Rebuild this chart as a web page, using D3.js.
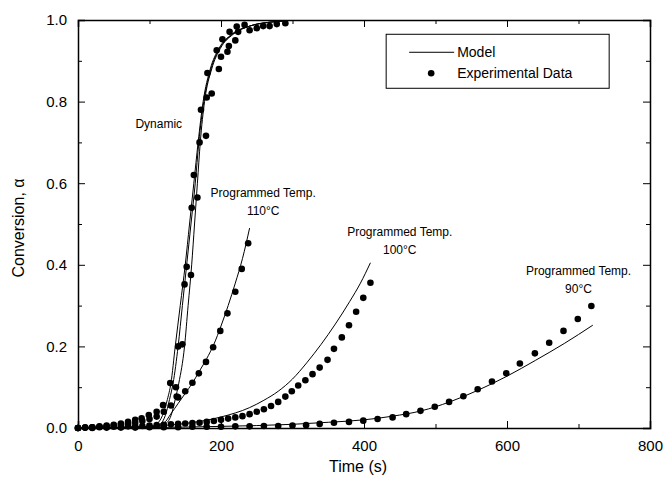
<!DOCTYPE html>
<html lang="en">
<head>
  <meta charset="UTF-8">
  <title>Conversion vs Time</title>
  <style>
    body { margin: 0; background: #fff; }
    svg text { font-family: "Liberation Sans", Arial, sans-serif; fill: #000; }
    .axis path, .axis line { stroke: #000; }
  </style>
</head>
<body>
  <div id="chart"></div>
  <script src="https://d3js.org/d3.v7.min.js"></script>
  <script>
    // ---- data: [time (s), conversion] ----
    const dynamicData = [[0,0],[10,0.001],[20,0.002],[30,0.004],[40,0.006],[50,0.008],[60,0.011],[70,0.015],[80,0.02],[89,0.024],[99,0.032],[110,0.04],[119,0.056],
      [129,0.11],[137,0.1],[138,0.077],[140,0.2],[146,0.205],[149,0.352],[152,0.395],[158,0.375],[159,0.54],[162,0.62],[167,0.565],
      [170,0.70],[172,0.78],[179,0.716],[180,0.81],[181,0.87],[187,0.82],[194,0.926],[197,0.88],[200,0.91],[202,0.953],[209,0.922],
      [211,0.936],[212,0.971],[220,0.95],[222,0.984],[224,0.971],[233,0.988],[240,0.975],[250,0.98],[259,0.985],[268,0.985],[278,0.99],[290,0.992]];
    const dynamicModelA = [[0,0],[100,0.003],[110,0.01],[118,0.03],[125,0.07],[130,0.11],[136,0.2],[143,0.3],[150,0.4],[156,0.5],[162,0.6],[168,0.7],[175,0.8],[185,0.88],[197,0.93],[215,0.965],[240,0.985],[270,0.995],[290,0.998]];
    const dynamicModelB = [[0,0],[100,0.002],[115,0.01],[122,0.03],[128,0.07],[133,0.11],[140,0.2],[146,0.3],[152,0.4],[158,0.5],[164,0.6],[169,0.7],[176,0.8],[186,0.88],[198,0.93],[216,0.965],[240,0.985],[270,0.995],[290,0.998]];
    const dynamicModelC = [[0,0],[110,0.003],[122,0.01],[130,0.03],[136,0.07],[141,0.11],[149,0.2],[154,0.3],[159,0.4],[163,0.5],[167,0.6],[171,0.7],[177,0.8],[187,0.88],[199,0.93],[217,0.965],[240,0.985],[270,0.995],[290,0.998]];

    const temp110Data = [[0,0],[10,0.001],[20,0.002],[30,0.003],[40,0.004],[50,0.006],[60,0.008],[70,0.01],[80,0.013],[90,0.017],[100,0.022],[110,0.028],[120,0.04],[130,0.055],
      [140,0.075],[150,0.09],[160,0.111],[169,0.134],[179,0.162],[189,0.198],[199,0.238],[209,0.281],[220,0.334],[229,0.39],[238,0.453]];
    const temp110Model = [[0,0],[100,0.003],[120,0.012],[130,0.035],[140,0.06],[150,0.085],[160,0.11],[170,0.14],[180,0.17],[190,0.205],[200,0.25],[210,0.3],[220,0.355],[230,0.415],[240,0.49]];

    const temp100Data = [[0,0],[10,0.001],[20,0.001],[30,0.002],[40,0.002],[50,0.003],[60,0.003],[70,0.004],[80,0.004],[90,0.005],[100,0.006],[110,0.007],[120,0.008],[130,0.009],
      [140,0.01],[150,0.011],[160,0.012],[170,0.013],[180,0.015],[190,0.017],[200,0.02],[210,0.023],[220,0.026],[230,0.029],[240,0.034],[250,0.04],[260,0.046],[270,0.054],
      [280,0.064],[290,0.077],[299,0.09],[308,0.104],[318,0.117],[328,0.132],[338,0.148],[349,0.167],[358,0.194],[369,0.222],[379,0.252],[389,0.285],[399,0.319],[409,0.356]];
    const temp100Model = [[0,0],[100,0.004],[150,0.011],[200,0.027],[240,0.05],[260,0.068],[280,0.09],[300,0.12],[320,0.16],[340,0.205],[360,0.255],[380,0.31],[395,0.355],[409,0.405]];

    const temp90Data = [[0,0],[20,0],[40,0.001],[60,0.001],[80,0.001],[100,0.002],[120,0.002],[140,0.002],[160,0.003],[180,0.003],[200,0.003],[220,0.004],[240,0.004],[260,0.005],
      [280,0.005],[300,0.006],[319,0.007],[338,0.01],[358,0.013],[379,0.015],[399,0.018],[419,0.022],[440,0.026],[459,0.034],[479,0.042],[499,0.052],[519,0.064],[539,0.078],
      [559,0.095],[579,0.114],[599,0.134],[618,0.158],[639,0.183],[659,0.209],[679,0.238],[699,0.267],[718,0.299]];
    const temp90Model = [[0,0],[100,0.001],[200,0.004],[300,0.009],[350,0.014],[400,0.02],[440,0.029],[480,0.042],[520,0.064],[560,0.093],[600,0.127],[640,0.166],[680,0.207],[720,0.252]];

    const xMajorTicks = [0, 200, 400, 600, 800];
    const xMinorTicks = [100, 300, 500, 700];
    const yMajorTicks = [0, 0.2, 0.4, 0.6, 0.8, 1.0];
    const yMinorTicks = [0.1, 0.3, 0.5, 0.7, 0.9];

    const modelSeries = [dynamicModelA, dynamicModelB, dynamicModelC, temp110Model, temp100Model, temp90Model];
    const dataSeries = [dynamicData, temp110Data, temp100Data, temp90Data];

    const annotations = [
      { lines: ["Dynamic"], x: 113, y: 0.735 },
      { lines: ["Programmed Temp.", "110\u00B0C"], x: 259, y: 0.565 },
      { lines: ["Programmed Temp.", "100\u00B0C"], x: 450, y: 0.47 },
      { lines: ["Programmed Temp.", "90\u00B0C"], x: 700, y: 0.375 }
    ];

    const width = 663, height = 477;
    const margin = { top: 20, right: 13, bottom: 49, left: 78 };
    const innerW = width - margin.left - margin.right;
    const innerH = height - margin.top - margin.bottom;

    const svg = d3.select("#chart").append("svg")
      .attr("width", width)
      .attr("height", height);

    const g = svg.append("g")
      .attr("transform", `translate(${margin.left},${margin.top})`);

    const x = d3.scaleLinear().domain([0, 800]).range([0, innerW]);
    const y = d3.scaleLinear().domain([0, 1]).range([innerH, 0]);

    // inward ticks on all four sides
    function drawAxis(axisFn, scale, major, minor, transform, showLabels, fmt, pad) {
      const maj = g.append("g").attr("class", "axis").attr("transform", transform)
        .call(axisFn(scale).tickValues(major).tickSize(-7).tickPadding(pad)
          .tickFormat(showLabels ? fmt : ""));
      maj.select(".domain").attr("stroke-width", 1.5);
      maj.selectAll("text").style("font-size", "15px");
      g.append("g").attr("class", "axis").attr("transform", transform)
        .call(axisFn(scale).tickValues(minor).tickSize(-4).tickFormat(""))
        .select(".domain").remove();
    }
    drawAxis(d3.axisBottom, x, xMajorTicks, xMinorTicks, `translate(0,${innerH})`, true, d3.format("d"), 12);
    drawAxis(d3.axisTop, x, xMajorTicks, xMinorTicks, "translate(0,0)", false, null, 3);
    drawAxis(d3.axisLeft, y, yMajorTicks, yMinorTicks, "translate(0,0)", true, d3.format(".1f"), 11);
    drawAxis(d3.axisRight, y, yMajorTicks, yMinorTicks, `translate(${innerW},0)`, false, null, 3);

    // model lines
    const line = d3.line().x(d => x(d[0])).y(d => y(d[1])).curve(d3.curveMonotoneX);
    g.selectAll(".model").data(modelSeries).enter().append("path")
      .attr("class", "model")
      .attr("d", line)
      .attr("fill", "none")
      .attr("stroke", "#000")
      .attr("stroke-width", 1);

    // experimental points
    g.selectAll(".series").data(dataSeries).enter().append("g")
      .attr("class", "series")
      .selectAll("circle").data(d => d).enter().append("circle")
      .attr("cx", d => x(d[0]))
      .attr("cy", d => y(d[1]))
      .attr("r", 3.3)
      .attr("fill", "#000");

    // curve annotations
    annotations.forEach(a => {
      const t = g.append("text")
        .attr("x", x(a.x))
        .attr("y", y(a.y))
        .attr("text-anchor", "middle")
        .style("font-size", "12px");
      a.lines.forEach((s, i) => {
        t.append("tspan").attr("x", x(a.x)).attr("dy", i === 0 ? 0 : "1.5em").text(s);
      });
    });

    // legend
    const legend = g.append("g").attr("transform", `translate(${x(431)},${y(0.965)})`);
    legend.append("rect")
      .attr("width", 223).attr("height", 54)
      .attr("fill", "#fff").attr("stroke", "#000").attr("stroke-width", 1);
    legend.append("line")
      .attr("x1", 23).attr("x2", 68).attr("y1", 18).attr("y2", 18)
      .attr("stroke", "#000").attr("stroke-width", 1);
    legend.append("text").attr("x", 71).attr("y", 18).attr("dy", "0.35em")
      .style("font-size", "14px").text("Model");
    legend.append("circle").attr("cx", 45).attr("cy", 39).attr("r", 3.3).attr("fill", "#000");
    legend.append("text").attr("x", 71).attr("y", 39).attr("dy", "0.35em")
      .style("font-size", "14px").text("Experimental Data");

    // axis titles
    svg.append("text")
      .attr("x", margin.left + x(400) - 6)
      .attr("y", 472)
      .attr("text-anchor", "middle")
      .style("font-size", "16px")
      .text("Time (s)");
    svg.append("text")
      .attr("transform", `translate(24,${margin.top + y(0.5) + 4}) rotate(-90)`)
      .attr("text-anchor", "middle")
      .style("font-size", "16px")
      .text("Conversion, \u03B1");
  </script>
</body>
</html>
